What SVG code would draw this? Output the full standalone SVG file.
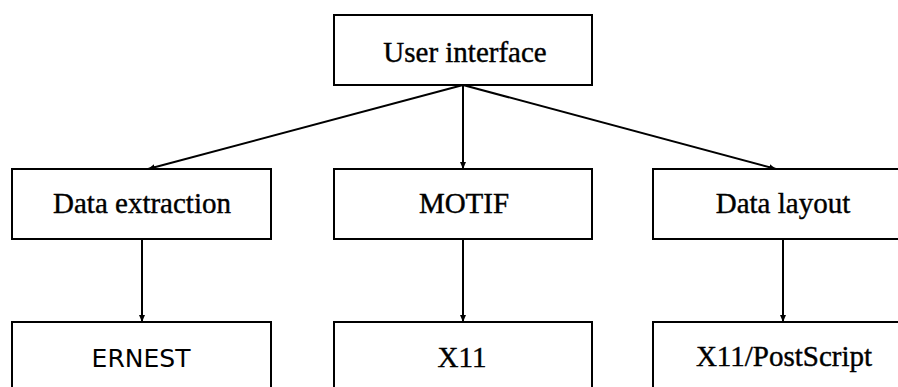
<svg xmlns="http://www.w3.org/2000/svg" width="898" height="387" viewBox="0 0 898 387">
<defs>
<marker id="ah" markerWidth="8" markerHeight="8" refX="7" refY="4" orient="auto" markerUnits="userSpaceOnUse">
<path d="M0,1 L7,4 L0,7 Z" fill="#000"/>
</marker>
<style>
.box{fill:#fff;stroke:#000;stroke-width:2}
.t{font-family:"Liberation Serif",serif;font-size:29px;fill:#000;stroke:#000;stroke-width:0.4;text-anchor:middle}
.s{font-family:"DejaVu Sans","Liberation Sans",sans-serif;font-size:25px;fill:#000;text-anchor:middle}
.c{stroke:#000;stroke-width:2;fill:none;marker-end:url(#ah)}
</style>
</defs>
<rect width="898" height="387" fill="#fff"/>
<g id="connectors">
<line class="c" x1="463" y1="85" x2="148" y2="169"/>
<line class="c" x1="463" y1="85" x2="463" y2="169"/>
<line class="c" x1="463" y1="85" x2="776" y2="169"/>
<line class="c" x1="142" y1="239" x2="142" y2="322"/>
<line class="c" x1="463" y1="239" x2="463" y2="322"/>
<line class="c" x1="783" y1="239" x2="783" y2="322"/>
</g>
<g id="user-interface">
<rect class="box" x="334" y="15" width="258" height="70"/>
<text class="t" x="465" y="62">User interface</text>
</g>
<g id="data-extraction">
<rect class="box" x="12" y="169" width="259" height="70"/>
<text class="t" x="142" y="213">Data extraction</text>
</g>
<g id="motif">
<rect class="box" x="334" y="169" width="258" height="70"/>
<text class="t" x="464" y="213">MOTIF</text>
</g>
<g id="data-layout">
<rect class="box" x="653" y="169" width="260" height="70"/>
<text class="t" x="783" y="213">Data layout</text>
</g>
<g id="ernest">
<rect class="box" x="12" y="322" width="259" height="80"/>
<text class="s" x="141" y="367">ERNEST</text>
</g>
<g id="x11">
<rect class="box" x="334" y="322" width="258" height="80"/>
<text class="t" x="462" y="367">X11</text>
</g>
<g id="x11-postscript">
<rect class="box" x="653" y="322" width="260" height="80"/>
<text class="t" x="784" y="366">X11/PostScript</text>
</g>
</svg>
